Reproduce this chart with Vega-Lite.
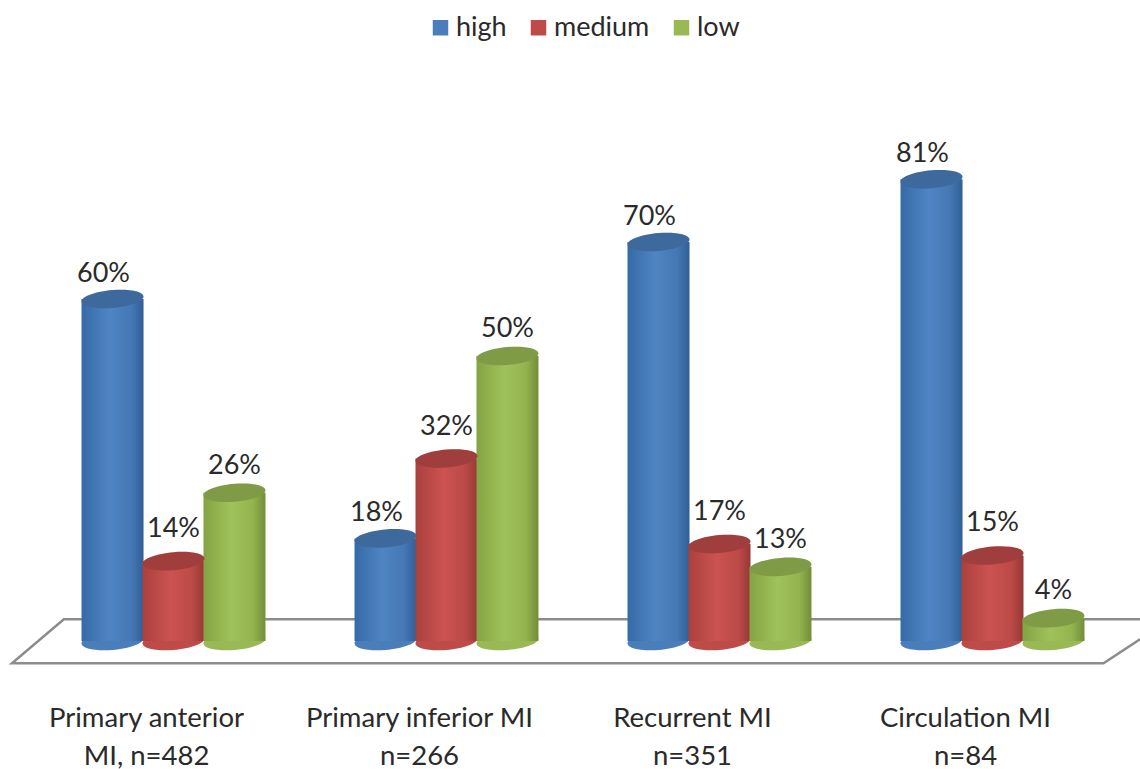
{"$schema":"https://vega.github.io/schema/vega-lite/v6.json","width":1140,"height":769,"autosize":"none","padding":0,"background":"#ffffff","config":{"view":{"stroke":null},"text":{"font":"Lato"},"axis":{"labelFont":"Lato"},"legend":{"labelFont":"Lato"}},
"datasets":{"bars":[
{"category":"Primary anterior|MI, n=482","series":"high","value":60,"label":"60%"},{"category":"Primary anterior|MI, n=482","series":"medium","value":14,"label":"14%"},{"category":"Primary anterior|MI, n=482","series":"low","value":26,"label":"26%"},
{"category":"Primary inferior MI|n=266","series":"high","value":18,"label":"18%"},{"category":"Primary inferior MI|n=266","series":"medium","value":32,"label":"32%"},{"category":"Primary inferior MI|n=266","series":"low","value":50,"label":"50%"},
{"category":"Recurrent MI|n=351","series":"high","value":70,"label":"70%"},{"category":"Recurrent MI|n=351","series":"medium","value":17,"label":"17%"},{"category":"Recurrent MI|n=351","series":"low","value":13,"label":"13%"},
{"category":"Circulation MI|n=84","series":"high","value":81,"label":"81%"},{"category":"Circulation MI|n=84","series":"medium","value":15,"label":"15%"},{"category":"Circulation MI|n=84","series":"low","value":4,"label":"4%"}],
"floor":[{"fx":100,"fy":0.3,"o":0},{"fx":96.8,"fy":-3.9,"o":1},{"fx":1.05,"fy":-3.9,"o":2},{"fx":5.6,"fy":3.8,"o":3},{"fx":100,"fy":3.8,"o":4}]},
"resolve":{"scale":{"x":"independent"}},
"layer":[
{"data":{"name":"floor"},"mark":{"type":"line","color":"#8c8c8c","strokeWidth":2.5,"interpolate":"linear"},"encoding":{"x":{"field":"fx","type":"quantitative","scale":{"domain":[0,100],"nice":false,"zero":false},"axis":null},"y":{"field":"fy","type":"quantitative","scale":{"domain":[-22.46,112.46],"nice":false,"zero":false},"axis":null},"order":{"field":"o"}}},
{"data":{"name":"bars"},
"encoding":{"x":{"field":"category","type":"nominal","sort":null,"title":null,"scale":{"domain":["Primary anterior|MI, n=482","Primary inferior MI|n=266","Recurrent MI|n=351","Circulation MI|n=84"],"range":[37,1129],"paddingInner":0.33,"paddingOuter":0.165},"axis":{"orient":"bottom","offset":-65,"domain":false,"ticks":false,"grid":false,"labelAngle":0,"labelFontSize":27.5,"labelColor":"#2a2a2a","labelLimit":0,"labelOffset":-27,"labelPadding":0,"labelBaseline":"top","labelLineHeight":38,"labelExpr":"split(datum.label,'|')"}},
"xOffset":{"field":"series","type":"nominal","sort":null,"scale":{"domain":["high","medium","low"]}},
"y":{"field":"value","type":"quantitative","scale":{"domain":[-22.46,112.46],"nice":false,"zero":false},"axis":null}},
"layer":[
{"mark":{"type":"point","filled":true,"opacity":1,"shape":"M-1,0.08 C-1,-0.08 -0.5523,-0.246 0,-0.29 C0.5523,-0.334 1,-0.24 1,-0.08 C1,0.08 0.5523,0.246 0,0.29 C-0.5523,0.334 -1,0.24 -1,0.08 Z","size":3844},"encoding":{"y":{"datum":0,"type":"quantitative","scale":{"domain":[-22.46,112.46],"nice":false,"zero":false},"axis":null},"color":{"field":"series","type":"nominal","scale":{"domain":["high","medium","low"],"range":["#4a7ebb","#be4b48","#98b954"]}}}},
{"transform":[{"filter":"datum.series==='high'"}],"mark":{"type":"bar","width":62,"fill":{"gradient":"linear","x1":0,"y1":0,"x2":1,"y2":0,"stops":[{"offset":0,"color":"#356aa6"},{"offset":0.45,"color":"#4f85c4"},{"offset":0.8,"color":"#4578b4"},{"offset":1,"color":"#2f5f96"}]}},"encoding":{"y2":{"datum":0}}},
{"transform":[{"filter":"datum.series==='medium'"}],"mark":{"type":"bar","width":62,"fill":{"gradient":"linear","x1":0,"y1":0,"x2":1,"y2":0,"stops":[{"offset":0,"color":"#aa403d"},{"offset":0.45,"color":"#cb5351"},{"offset":0.8,"color":"#bc4a47"},{"offset":1,"color":"#963835"}]}},"encoding":{"y2":{"datum":0}}},
{"transform":[{"filter":"datum.series==='low'"}],"mark":{"type":"bar","width":62,"fill":{"gradient":"linear","x1":0,"y1":0,"x2":1,"y2":0,"stops":[{"offset":0,"color":"#84a343"},{"offset":0.45,"color":"#a0c25a"},{"offset":0.8,"color":"#93b34f"},{"offset":1,"color":"#728e38"}]}},"encoding":{"y2":{"datum":0}}},
{"mark":{"type":"point","filled":true,"opacity":1,"shape":"M-1,0.08 C-1,-0.08 -0.5523,-0.246 0,-0.29 C0.5523,-0.334 1,-0.24 1,-0.08 C1,0.08 0.5523,0.246 0,0.29 C-0.5523,0.334 -1,0.24 -1,0.08 Z","size":3844},"encoding":{"color":{"field":"series","type":"nominal","scale":{"domain":["high","medium","low"],"range":["#4a7ebb","#be4b48","#98b954"]},"legend":{"title":null,"orient":"none","legendX":427,"legendY":14,"direction":"horizontal","symbolType":"square","symbolSize":240,"symbolStrokeWidth":0,"symbolOpacity":1,"labelFontSize":27,"labelColor":"#2a2a2a","labelOffset":2,"columnPadding":18,"labelLimit":0}}}},
{"mark":{"type":"point","filled":true,"color":"#000000","opacity":0.16,"shape":"M-1,0.08 C-1,-0.08 -0.5523,-0.246 0,-0.29 C0.5523,-0.334 1,-0.24 1,-0.08 C1,0.08 0.5523,0.246 0,0.29 C-0.5523,0.334 -1,0.24 -1,0.08 Z","size":3844}},
{"transform":[{"filter":"datum.series==='high'"}],"mark":{"type":"text","fontSize":27,"color":"#2a2a2a","dx":-9,"dy":-25},"encoding":{"text":{"field":"label"}}},
{"transform":[{"filter":"datum.series==='medium'"}],"mark":{"type":"text","fontSize":27,"color":"#2a2a2a","dx":0,"dy":-32},"encoding":{"text":{"field":"label"}}},
{"transform":[{"filter":"datum.series==='low'"}],"mark":{"type":"text","fontSize":27,"color":"#2a2a2a","dx":0,"dy":-27},"encoding":{"text":{"field":"label"}}}
]}
]}
